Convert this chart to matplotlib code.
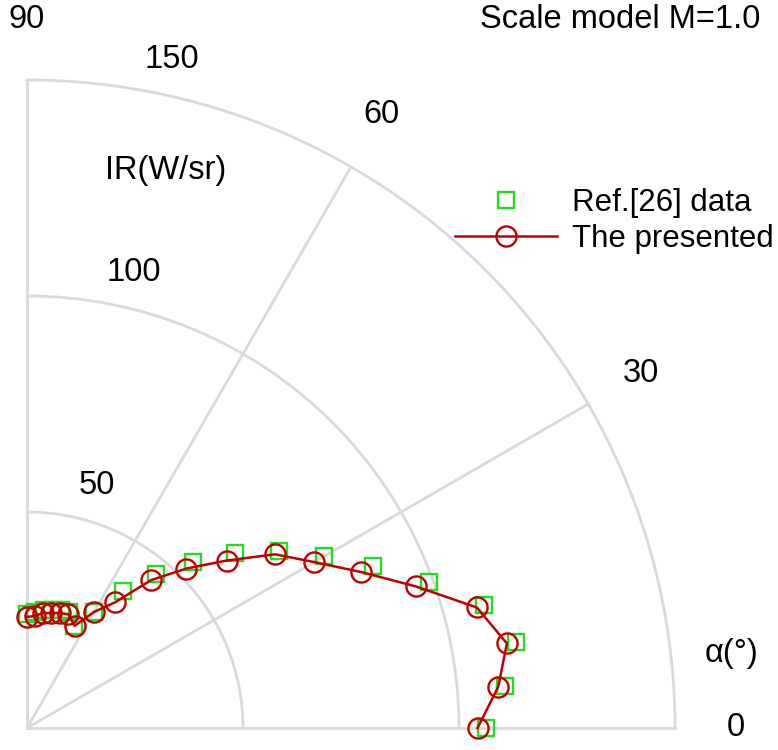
import numpy as np
import matplotlib
matplotlib.use('Agg')
from matplotlib import pyplot as plt

plt.rcParams['font.family'] = ['Liberation Sans', 'DejaVu Sans']

# angles (deg) and radiant intensity IR (W/sr)
angles = [0, 5, 10, 15, 20, 25, 30, 35, 40, 45, 50, 55, 60, 65, 70, 74, 78, 82, 86, 90]
ir_presented = [104.3, 109.5, 112.8, 107.8, 95.8, 85.4, 76.8, 70.1, 60.3, 52.2,
                44.7, 35.5, 31.0, 26.1, 28.0, 27.7, 27.2, 26.9, 26.0, 25.7]
ir_ref = [106.3, 111.0, 115.0, 109.6, 99.1, 88.5, 79.4, 71.3, 62.9, 54.4,
          46.4, 38.6, 31.0, 26.0, 28.5, 28.5, 28.0, 27.5, 27.0, 26.5]
r_ticks = [50, 100, 150]
theta_ticks = [0, 30, 60, 90]

grey = '#d9d9d9'
red = '#c00000'
green = '#22dd22'
fs = 23.5

fig = plt.figure(figsize=(7.78, 7.5), dpi=100)
ax = fig.add_axes([27/778, 22/750, 648/778, 648/750], projection='polar')
ax.set_thetamin(0)
ax.set_thetamax(90)
ax.set_ylim(0, 150)

th = np.radians(angles)
ax.plot(th, ir_ref, ls='none', marker='s', ms=11.5, mfc='none', mec=green,
        mew=1.7, label='Ref.[26] data', clip_on=False, zorder=3)
ax.plot(th, ir_presented, color=red, lw=1.8, marker='o', ms=14.5, mfc='none',
        mec=red, mew=1.7, label='The presented', clip_on=False, zorder=4)

# grid and frame
ax.set_thetagrids([30, 60], labels=['', ''])
ax.set_rgrids([50, 100], labels=['', ''])
ax.grid(True, color=grey, lw=2)
for s in ax.spines.values():
    s.set_color(grey)
    s.set_linewidth(2)
ax.tick_params(length=0)

# tick labels by hand
for t in theta_ticks:
    ax.text(np.radians(t), 164, str(t), fontsize=fs, ha='center', va='center')
for r in r_ticks:
    ax.annotate(str(r), xy=(np.radians(80), r), xytext=(23, 21.5),
                textcoords='offset points', fontsize=fs, ha='center', va='center')
ax.text(np.radians(76), 133, 'IR(W/sr)', fontsize=fs, ha='center', va='center')
ax.text(np.radians(6), 164, 'α(°)', fontsize=fs, ha='center', va='center')

fig.text(760/778, 1 - 19/750, 'Scale model M=1.0', fontsize=fs, ha='right', va='center')

fig.legend(loc='upper left', bbox_to_anchor=(455/778, 1 - 188/750), frameon=False,
           fontsize=22.5, handlelength=3.26, handletextpad=0.48, borderpad=0,
           borderaxespad=0, labelspacing=0.2)

fig.savefig('out.png', dpi=100)
